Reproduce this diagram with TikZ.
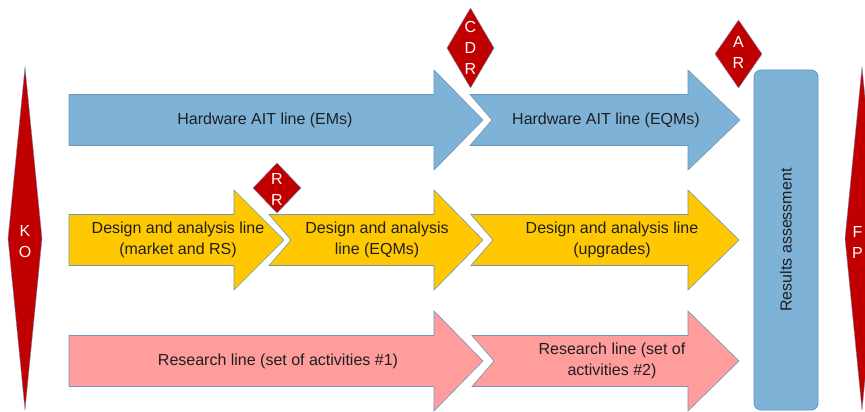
\documentclass[tikz,border=0pt]{standalone}
\usepackage{fontspec}
\setmainfont{Liberation Sans}
\usepackage{xcolor}
\definecolor{mblue}{RGB}{126,178,214}
\definecolor{myellow}{RGB}{255,200,0}
\definecolor{mpink}{RGB}{255,156,156}
\definecolor{mred}{RGB}{192,0,0}
\definecolor{mborder}{RGB}{112,150,186}
\definecolor{mboxline}{RGB}{96,148,196}

\begin{document}
\begin{tikzpicture}[x=1pt, y=-1pt,
    stage/.style={draw=mborder, line width=0.6pt, line join=miter},
    hwline/.style={stage, fill=mblue},
    dsline/.style={stage, fill=myellow},
    rsline/.style={stage, fill=mpink},
    milestone/.style={fill=mred, draw=mborder, line width=0.4pt},
    linetext/.style={font=\fontsize{16}{21}\selectfont, text=black!88, align=center, inner sep=0pt},
    mstext/.style={font=\fontsize{16}{21}\selectfont, text=white, align=center, inner sep=0pt},
]
\clip (0,0) rectangle (865,412);
\fill[white] (0,0) rectangle (865,412);

% hardware AIT line
\draw[hwline] (69,94.5) -- (434,94.5) -- (434,70) -- (483,120) -- (434,170) -- (434,145.5) -- (69,145.5) -- cycle;
\draw[hwline] (470,94.5) -- (688,94.5) -- (688,70) -- (740,120) -- (688,170) -- (688,145.5) -- (470,145.5) -- (492,120) -- cycle;
\node[linetext] (hwems) at (265,120) {Hardware AIT line (EMs)};
\node[linetext] (hweqms) at (606,120) {Hardware AIT line (EQMs)};

% design and analysis line
\draw[dsline] (69,214.5) -- (234,214.5) -- (234,190) -- (284,240) -- (234,290) -- (234,265.5) -- (69,265.5) -- cycle;
\draw[dsline] (269,214.5) -- (434,214.5) -- (434,190) -- (483,240) -- (434,290) -- (434,265.5) -- (269,265.5) -- (291,240) -- cycle;
\draw[dsline] (471,214.5) -- (688,214.5) -- (688,190) -- (739,240) -- (688,290) -- (688,265.5) -- (471,265.5) -- (493,240) -- cycle;
\node[linetext] (dsmarket) at (178,240) {Design and analysis line\\(market and RS)};
\node[linetext] (dseqms) at (377,240) {Design and analysis\\line (EQMs)};
\node[linetext] (dsupg) at (612,240) {Design and analysis line\\(upgrades)};

% research line
\draw[rsline] (69,335.5) -- (434,335.5) -- (434,311) -- (483,361) -- (434,411) -- (434,386.5) -- (69,386.5) -- cycle;
\draw[rsline] (472,335.5) -- (688,335.5) -- (688,311) -- (739,361) -- (688,411) -- (688,386.5) -- (472,386.5) -- (494,361) -- cycle;
\node[linetext] (rsone) at (278,361) {Research line (set of activities \#1)};
\node[linetext] (rstwo) at (612,361) {Research line (set of\\activities \#2)};

% results
\draw[fill=mblue, draw=mboxline, line width=0.8pt, rounded corners=7pt] (754,70) rectangle (818,410);
\node[linetext, rotate=90] (results) at (786,240) {Results assessment};

% milestones
\path[milestone] (25,67) -- (42,238.5) -- (25,410) -- (8,238.5) -- cycle;
\node[mstext] (ko) at (25,242) {K\\O};
\path[milestone] (862,67) -- (879,238.5) -- (862,410) -- (845,238.5) -- cycle;
\node[mstext] (fp) at (857.5,242) {F\\P};
\path[milestone] (470.5,8) -- (494,48) -- (470.5,88) -- (447,48) -- cycle;
\node[mstext] (cdr) at (470.5,48) {C\\D\\R};
\path[milestone] (738.5,20) -- (762,54) -- (738.5,88) -- (715,54) -- cycle;
\node[mstext] (ar) at (738.5,52) {A\\R};
\path[milestone] (277,163) -- (301,188) -- (277,213) -- (253,188) -- cycle;
\node[mstext] (rr) at (277,189) {R\\R};
\end{tikzpicture}
\end{document}
